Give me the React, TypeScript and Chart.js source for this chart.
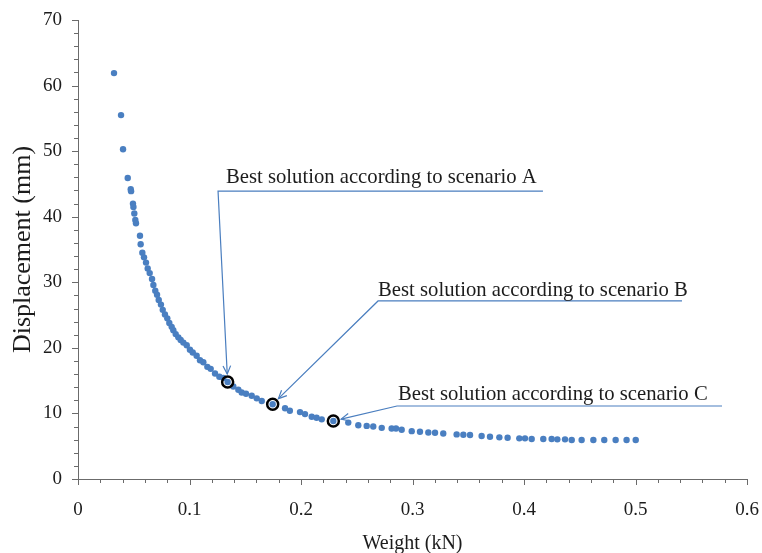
import React, { useEffect, useRef } from 'react';
import { Chart, registerables } from 'chart.js';

Chart.register(...registerables);

// ---- data ----
const weights = [
  0.0323, 0.0386, 0.0404, 0.0446, 0.0473, 0.0476, 0.0493, 0.0497, 0.0505, 0.0514,
  0.052, 0.0556, 0.0562, 0.0577, 0.0592, 0.061, 0.0625, 0.0643, 0.0664, 0.0676,
  0.0693, 0.0709, 0.0724, 0.0744, 0.076, 0.078, 0.0801, 0.0819, 0.084, 0.0855,
  0.0876, 0.09, 0.0921, 0.0945, 0.0975, 0.1004, 0.1029, 0.1064, 0.1094, 0.1124,
  0.116, 0.119, 0.1229, 0.1268, 0.1304, 0.1342, 0.1393, 0.1438, 0.1468, 0.1507,
  0.1558, 0.1603, 0.1648, 0.1746, 0.1857, 0.19, 0.1991, 0.2036, 0.2096, 0.214,
  0.2186, 0.229, 0.2424, 0.2514, 0.2589, 0.2648, 0.2724, 0.2813, 0.2852, 0.2903,
  0.2993, 0.3067, 0.3142, 0.3202, 0.3276, 0.3396, 0.3456, 0.3516, 0.362, 0.3695,
  0.3779, 0.3853, 0.3958, 0.4009, 0.4069, 0.4173, 0.4248, 0.4299, 0.4368, 0.4428,
  0.4517, 0.4622, 0.472, 0.4822, 0.492, 0.5002,
];
const displacements = [
  61.9, 55.5, 50.3, 45.9, 44.2, 43.9, 42.0, 41.5, 40.5, 39.5,
  39.0, 37.1, 35.8, 34.5, 33.8, 33.0, 32.1, 31.4, 30.5, 29.6,
  28.7, 28.1, 27.3, 26.6, 25.8, 25.1, 24.5, 23.8, 23.2, 22.7,
  22.1, 21.6, 21.2, 20.8, 20.4, 19.7, 19.3, 18.8, 18.1, 17.8,
  17.1, 16.8, 16.1, 15.6, 15.4, 14.8, 14.1, 13.6, 13.2, 13.0,
  12.7, 12.3, 11.9, 11.4, 10.8, 10.4, 10.2, 9.9, 9.5, 9.35,
  9.1, 8.85, 8.6, 8.2, 8.1, 8.0, 7.8, 7.7, 7.7, 7.5,
  7.3, 7.2, 7.1, 7.05, 6.95, 6.8, 6.75, 6.7, 6.55, 6.45,
  6.35, 6.3, 6.2, 6.2, 6.1, 6.1, 6.1, 6.05, 6.05, 5.95,
  5.95, 5.95, 5.95, 5.95, 5.95, 5.95,
];

const bestWeights = [0.1342, 0.1746, 0.229];
const bestDisplacements = [14.8, 11.4, 8.85];
const scenarioLabels = [
  'Best solution according to scenario A',
  'Best solution according to scenario B',
  'Best solution according to scenario C',
];

const xTicks = [0, 0.1, 0.2, 0.3, 0.4, 0.5, 0.6];
const xTickLabels = ['0', '0.1', '0.2', '0.3', '0.4', '0.5', '0.6'];
const yTicks = [0, 10, 20, 30, 40, 50, 60, 70];
const yTickLabels = ['0', '10', '20', '30', '40', '50', '60', '70'];

// callout geometry, in data units
const calloutElbowX = [0.1256, 0.2691, 0.2861];
const calloutElbowY = [43.9, 27.15, 11.13];
const calloutEndX = [0.417, 0.5417, 0.5776];
const calloutTextX = [0.1327, 0.2691, 0.287];
const calloutTextY = [45.1, 27.9, 12.05];

// ---- styles ----
const FONT = '"Liberation Serif", "Times New Roman", serif';
const AXIS = '#6b6b6b';
const TEXT = '#1c1c1c';
const BLUE = '#4a7fc1';
const LINE_BLUE = '#4a7ebf';

const decorPlugin = {
  id: 'decor',
  afterDatasetsDraw(chart: any) {
    const { ctx, chartArea } = chart;
    const x = chart.scales.x;
    const y = chart.scales.y;
    ctx.save();
    // axis ticks (major + minor)
    ctx.strokeStyle = AXIS;
    ctx.lineWidth = 1;
    ctx.beginPath();
    const xMinor = (xTicks[1] - xTicks[0]) / 5;
    const nx = Math.round((xTicks[xTicks.length - 1] - xTicks[0]) / xMinor);
    for (let i = 0; i <= nx; i++) {
      const px = Math.round(x.getPixelForValue(xTicks[0] + i * xMinor)) + 0.5;
      const len = i % 5 === 0 ? 6 : 4;
      ctx.moveTo(px, chartArea.bottom);
      ctx.lineTo(px, chartArea.bottom + len);
    }
    const yMinor = (yTicks[1] - yTicks[0]) / 5;
    const ny = Math.round((yTicks[yTicks.length - 1] - yTicks[0]) / yMinor);
    for (let i = 0; i <= ny; i++) {
      const py = Math.round(y.getPixelForValue(yTicks[0] + i * yMinor)) + 0.5;
      const len = i % 5 === 0 ? 6 : 4;
      ctx.moveTo(chartArea.left, py);
      ctx.lineTo(chartArea.left - len, py);
    }
    ctx.stroke();

    // callouts
    ctx.strokeStyle = LINE_BLUE;
    ctx.lineWidth = 1.2;
    ctx.font = `20.7px ${FONT}`;
    ctx.fillStyle = TEXT;
    ctx.textAlign = 'left';
    ctx.textBaseline = 'alphabetic';
    for (let k = 0; k < scenarioLabels.length; k++) {
      const ex = x.getPixelForValue(calloutElbowX[k]);
      const ey = y.getPixelForValue(calloutElbowY[k]);
      const endX = x.getPixelForValue(calloutEndX[k]);
      const cx = x.getPixelForValue(bestWeights[k]);
      const cy = y.getPixelForValue(bestDisplacements[k]);
      let dx = ex - cx;
      let dy = ey - cy;
      const L = Math.hypot(dx, dy);
      dx /= L;
      dy /= L;
      const tx = cx + dx * 8;
      const ty = cy + dy * 8;
      ctx.beginPath();
      ctx.moveTo(endX, ey);
      ctx.lineTo(ex, ey);
      ctx.lineTo(tx, ty);
      ctx.stroke();
      // open arrow head
      const a = (25 * Math.PI) / 180;
      const h = 9;
      const w1x = dx * Math.cos(a) - dy * Math.sin(a);
      const w1y = dx * Math.sin(a) + dy * Math.cos(a);
      const w2x = dx * Math.cos(-a) - dy * Math.sin(-a);
      const w2y = dx * Math.sin(-a) + dy * Math.cos(-a);
      ctx.beginPath();
      ctx.moveTo(tx + w1x * h, ty + w1y * h);
      ctx.lineTo(tx, ty);
      ctx.lineTo(tx + w2x * h, ty + w2y * h);
      ctx.stroke();
      ctx.fillText(scenarioLabels[k], x.getPixelForValue(calloutTextX[k]), y.getPixelForValue(calloutTextY[k]));
    }
    ctx.restore();
  },
};

export default function App() {
  const canvasRef = useRef<HTMLCanvasElement | null>(null);

  useEffect(() => {
    if (!canvasRef.current) return;
    const chart = new Chart(canvasRef.current, {
      type: 'scatter',
      data: {
        datasets: [
          {
            label: 'Best solutions',
            data: bestWeights.map((w, i) => ({ x: w, y: bestDisplacements[i] })),
            pointRadius: 5.5,
            pointHoverRadius: 5.5,
            borderWidth: 2.5,
            borderColor: '#000000',
            backgroundColor: 'rgba(0,0,0,0)',
            order: 0,
          },
          {
            label: 'Solutions',
            data: weights.map((w, i) => ({ x: w, y: displacements[i] })),
            pointRadius: 3.2,
            pointHoverRadius: 3.2,
            borderWidth: 0,
            backgroundColor: BLUE,
            borderColor: BLUE,
            order: 1,
          },
        ],
      },
      options: {
        animation: false,
        responsive: true,
        maintainAspectRatio: false,
        layout: { padding: { top: 20, right: 15, left: 0, bottom: 0 } },
        plugins: { legend: { display: false }, tooltip: { enabled: false } },
        scales: {
          x: {
            type: 'linear',
            min: xTicks[0],
            max: xTicks[xTicks.length - 1],
            afterBuildTicks: (s: any) => {
              s.ticks = xTicks.map((v) => ({ value: v }));
            },
            afterFit: (s: any) => {
              s.height = 74;
              s.paddingLeft = 0;
              s.paddingRight = 0;
              s.paddingTop = 0;
              s.paddingBottom = 0;
            },
            ticks: {
              callback: (_v: any, i: number) => xTickLabels[i],
              font: { family: FONT, size: 19 },
              color: TEXT,
              padding: 20,
              maxRotation: 0,
              autoSkip: false,
            },
            grid: { display: false, drawTicks: false, tickLength: 0 },
            border: { display: true, color: AXIS, width: 1 },
            title: {
              display: true,
              text: 'Weight (kN)',
              font: { family: FONT, size: 20, lineHeight: 1 },
              color: TEXT,
              padding: { top: 0, bottom: -1 },
            },
          },
          y: {
            type: 'linear',
            min: yTicks[0],
            max: yTicks[yTicks.length - 1],
            afterBuildTicks: (s: any) => {
              s.ticks = yTicks.map((v) => ({ value: v }));
            },
            afterFit: (s: any) => {
              s.width = 78;
              s.paddingLeft = 0;
              s.paddingRight = 0;
              s.paddingTop = 0;
              s.paddingBottom = 0;
            },
            ticks: {
              callback: (_v: any, i: number) => yTickLabels[i],
              font: { family: FONT, size: 19 },
              color: TEXT,
              padding: 16,
              autoSkip: false,
            },
            grid: { display: false, drawTicks: false, tickLength: 0 },
            border: { display: true, color: AXIS, width: 1 },
            title: {
              display: true,
              text: 'Displacement (mm)',
              font: { family: FONT, size: 26, lineHeight: 1 },
              color: TEXT,
              padding: { top: 10, bottom: 0 },
            },
          },
        },
      },
      plugins: [decorPlugin],
    });
    return () => chart.destroy();
  }, []);

  return (
    <div style={{ position: 'absolute', left: 0, top: 0, width: 762, height: 553, background: '#ffffff' }}>
      <canvas ref={canvasRef} />
    </div>
  );
}
